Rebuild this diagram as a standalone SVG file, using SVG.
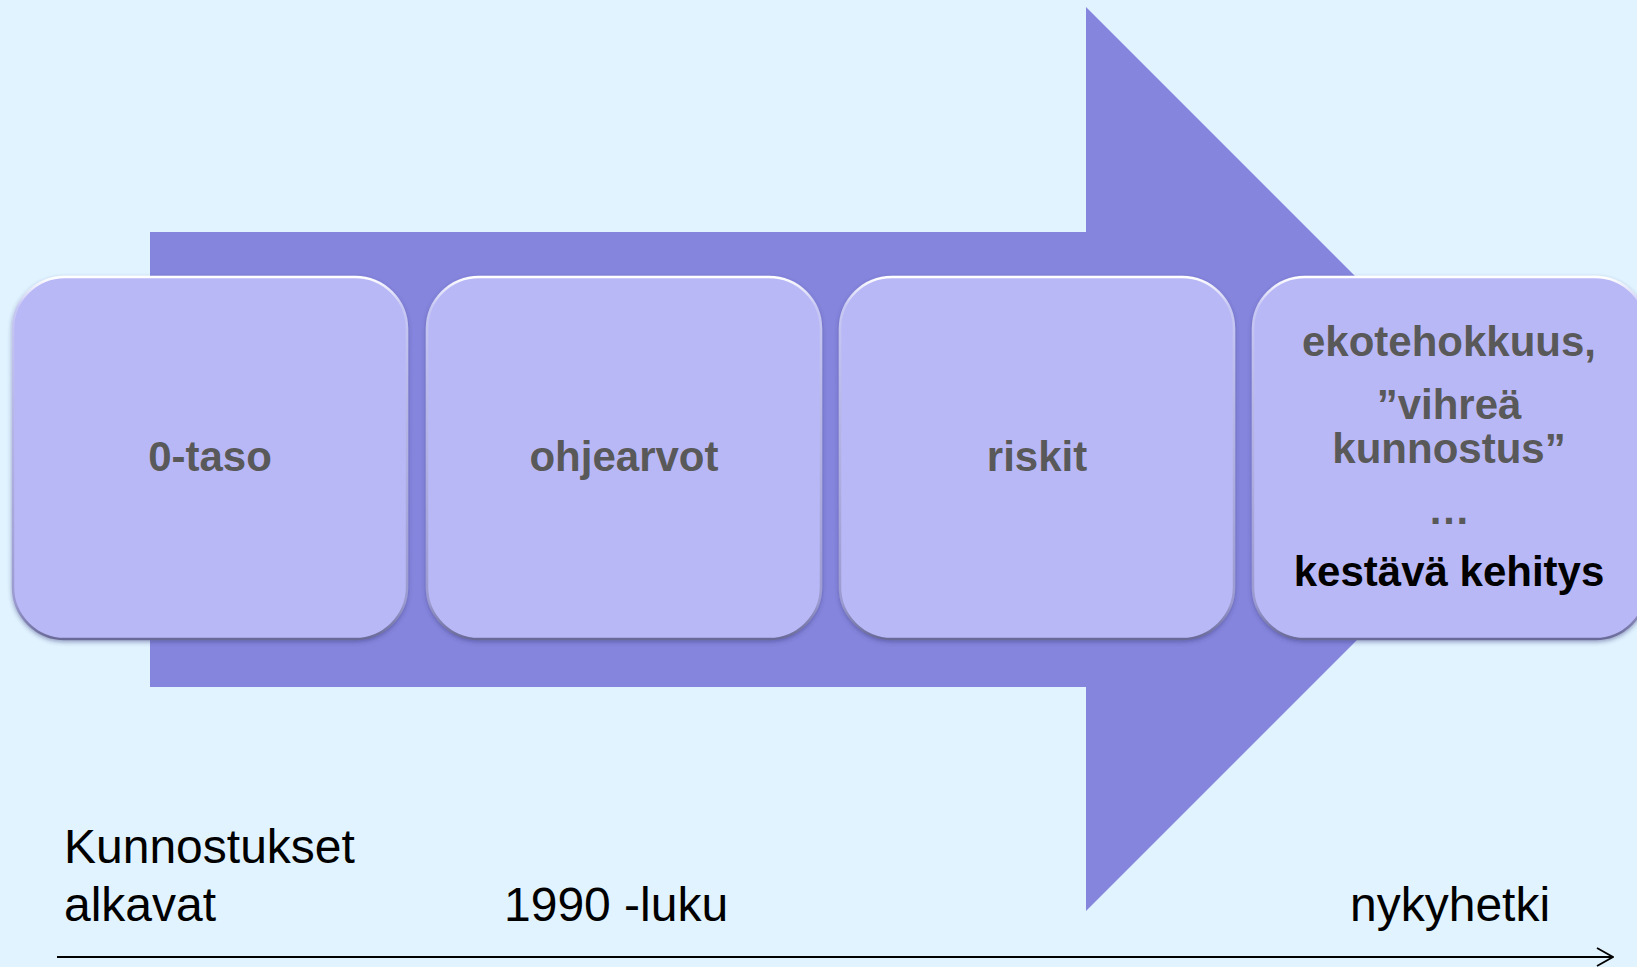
<svg xmlns="http://www.w3.org/2000/svg" width="1637" height="967" viewBox="0 0 1637 967">
  <defs>
    <linearGradient id="bevel" x1="0" y1="0" x2="0" y2="1">
      <stop offset="0" stop-color="#ffffff"/>
      <stop offset="0.08" stop-color="#c8c8f4"/>
      <stop offset="0.9" stop-color="#9a9ad0"/>
      <stop offset="1" stop-color="#6a6a98"/>
    </linearGradient>
    <filter id="shadow" x="-10%" y="-10%" width="120%" height="120%">
      <feDropShadow dx="0" dy="2" stdDeviation="2" flood-color="#3a3a80" flood-opacity="0.45"/>
    </filter>
    <marker id="open" viewBox="0 0 18 20" refX="17" refY="10" markerWidth="18" markerHeight="20" markerUnits="userSpaceOnUse" orient="auto">
      <path d="M1,1 L17,10 L1,19" fill="none" stroke="#000" stroke-width="1.8"/>
    </marker>
    <style>
      .box { fill: #b9b8f7; stroke: url(#bevel); stroke-width: 2.5; filter: url(#shadow); }
      .lbl { font-family: "Liberation Sans", Arial, sans-serif; font-weight: bold; font-size: 42px; fill: #595959; text-anchor: middle; }
      .dark { fill: #000000; }
      .time { font-family: "Liberation Sans", Arial, sans-serif; font-size: 48px; fill: #000000; }
    </style>
  </defs>
  <rect x="0" y="0" width="1637" height="967" fill="#e0f3fe"/>
  <g id="big-arrow">
    <polygon points="150,232 1086,232 1086,7 1538,459 1086,911 1086,687 150,687" fill="#8585dd"/>
  </g>
  <g id="node-0taso">
    <rect class="box" x="13" y="277" width="394" height="362" rx="52" ry="52"/>
    <text class="lbl" x="210" y="471">0-taso</text>
  </g>
  <g id="node-ohjearvot">
    <rect class="box" x="427" y="277" width="394" height="362" rx="52" ry="52"/>
    <text class="lbl" x="624" y="471">ohjearvot</text>
  </g>
  <g id="node-riskit">
    <rect class="box" x="840" y="277" width="394" height="362" rx="52" ry="52"/>
    <text class="lbl" x="1037" y="471">riskit</text>
  </g>
  <g id="node-nyky">
    <rect class="box" x="1253" y="277" width="394" height="362" rx="52" ry="52"/>
    <text class="lbl" x="1449" y="356">ekotehokkuus,</text>
    <text class="lbl" x="1449" y="419">”vihreä</text>
    <text class="lbl" x="1449" y="463">kunnostus”</text>
    <text class="lbl" x="1449" y="524">…</text>
    <text class="lbl dark" x="1449" y="586">kestävä kehitys</text>
  </g>
  <g id="timeline-labels">
    <text class="time" x="64" y="863">Kunnostukset</text>
    <text class="time" x="64" y="921">alkavat</text>
    <text class="time" x="504" y="921">1990 -luku</text>
    <text class="time" x="1350" y="921">nykyhetki</text>
  </g>
  <g id="connectors">
    <line x1="57" y1="957" x2="1613" y2="957" stroke="#000" stroke-width="2" marker-end="url(#open)"/>
  </g>
</svg>
